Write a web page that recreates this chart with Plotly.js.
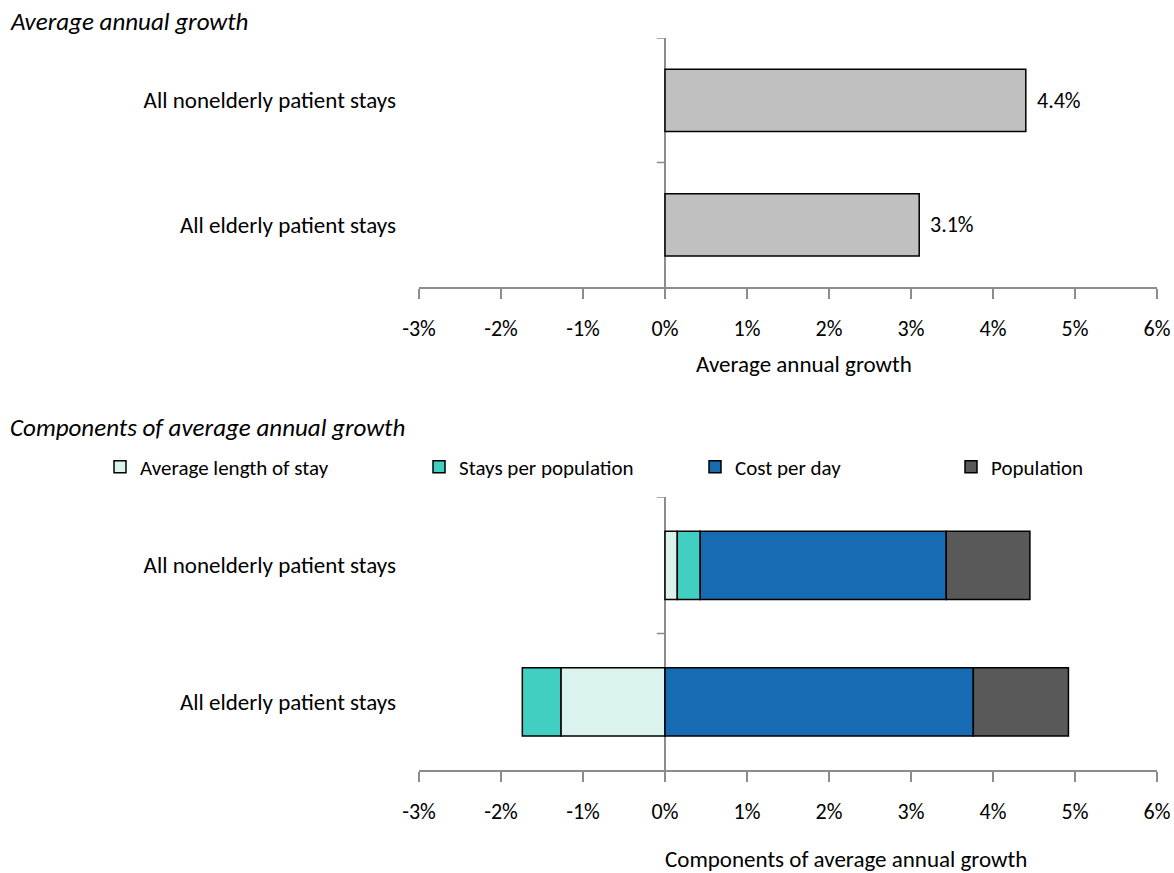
<!DOCTYPE html>
<html>
<head>
<meta charset="utf-8">
<script src="https://cdn.plot.ly/plotly-3.0.1.min.js"></script>
<style>html,body{margin:0;padding:0;background:#fff;}#chart{width:1174px;height:873px;}</style>
</head>
<body>
<div id="chart"></div>
<script>
// ---- data ----
const categories = ["All nonelderly patient stays", "All elderly patient stays"];
const totalGrowth = [4.4, 3.1];
const componentNames = ["Average length of stay", "Stays per population", "Cost per day", "Population"];
const avgLengthOfStay = [0.15, -1.27];
const staysPerPopulation = [0.28, -0.47];
const costPerDay = [3.0, 3.76];
const population = [1.02, 1.16];
const xTickVals = [-3, -2, -1, 0, 1, 2, 3, 4, 5, 6];
const xTickText = ["-3%", "-2%", "-1%", "0%", "1%", "2%", "3%", "4%", "5%", "6%"];
const topTitle = "Average annual growth";
const bottomTitle = "Components of average annual growth";

const FONT = "Carlito, Lato, 'Liberation Sans', sans-serif";
const AX = "#8c8c8c";
const colors = ["#DAF3EF", "#40CFC0", "#176BB3", "#595959"];
const compValues = [avgLengthOfStay, staysPerPopulation, costPerDay, population];
const legendIds = ["legend", "legend2", "legend3", "legend4"];
const legendTextX = [140, 459, 735, 991];

const traces = [];
traces.push({
  type: "bar", orientation: "h", x: totalGrowth, y: categories,
  xaxis: "x", yaxis: "y", showlegend: false,
  marker: {color: "#C0C0C0", line: {color: "#000", width: 1.5}},
  hoverinfo: "x+y"
});
componentNames.forEach((name, i) => {
  traces.push({
    type: "bar", orientation: "h", name: name, x: compValues[i], y: categories,
    xaxis: "x2", yaxis: "y2", legend: legendIds[i],
    marker: {color: colors[i], line: {color: "#000", width: 1.5}}
  });
});

const W = 1174, H = 873;
const xDom = [419 / W, 1157 / W];
const yTopDom = [1 - 287 / H, 1 - 38 / H];
const yBotDom = [1 - 770 / H, 1 - 497 / H];

function xAxis(anchor) {
  return {
    domain: xDom, anchor: anchor, range: [-3, 6], tickvals: xTickVals, ticktext: xTickText,
    showgrid: false, zeroline: true, zerolinecolor: AX, zerolinewidth: 1.5,
    showline: true, linecolor: AX, linewidth: 1.5, ticks: "outside", ticklen: 10,
    tickcolor: AX, tickwidth: 1.5, ticklabelstandoff: 11,
    tickfont: {family: FONT, size: 22, color: "#000"}, fixedrange: true
  };
}
function yAxis(anchor, dom) {
  return {
    domain: dom, anchor: anchor, type: "category", range: [1.5, -0.5],
    categoryorder: "array", categoryarray: categories,
    showgrid: false, zeroline: false, showline: false, ticks: "", ticklabelstandoff: 22,
    tickfont: {family: FONT, size: 23, color: "#000"}, fixedrange: true
  };
}

const shapes = [];
[["x", "y"], ["x2", "y2"]].forEach(([xr, yr]) => {
  [-0.5, 0.5].forEach(b => {
    shapes.push({type: "line", xref: xr, yref: yr, x0: -0.1, x1: 0, y0: b, y1: b,
      line: {color: AX, width: 1.5}});
  });
});

const annotations = [
  {text: "<i>" + topTitle + "</i>", xref: "paper", yref: "paper", x: 8 / W, y: 1 - 21 / H,
    xanchor: "left", yanchor: "middle", showarrow: false, font: {family: FONT, size: 25}},
  {text: "<i>" + bottomTitle + "</i>", xref: "paper", yref: "paper", x: 8 / W, y: 1 - 427 / H,
    xanchor: "left", yanchor: "middle", showarrow: false, font: {family: FONT, size: 25}},
  {text: topTitle, xref: "paper", yref: "paper", x: 804 / W, y: 1 - 364 / H,
    xanchor: "center", yanchor: "middle", showarrow: false, font: {family: FONT, size: 23}},
  {text: bottomTitle, xref: "paper", yref: "paper", x: 846 / W, y: 1 - 859 / H,
    xanchor: "center", yanchor: "middle", showarrow: false, font: {family: FONT, size: 23}}
];
totalGrowth.forEach((v, i) => {
  annotations.push({text: v.toFixed(1) + "%", xref: "x", yref: "y", x: v, y: categories[i],
    xanchor: "left", yanchor: "middle", xshift: 9, showarrow: false,
    font: {family: FONT, size: 22, color: "#000"}});
});

const layout = {
  width: W, height: H, margin: {l: 0, r: 0, t: 0, b: 0},
  paper_bgcolor: "#fff", plot_bgcolor: "#fff",
  barmode: "relative", bargap: 0.5,
  font: {family: FONT, size: 22, color: "#000"},
  xaxis: xAxis("y"), yaxis: yAxis("x", yTopDom),
  xaxis2: xAxis("y2"), yaxis2: yAxis("x2", yBotDom),
  shapes: shapes,
  showlegend: true,
  annotations: annotations
};
legendIds.forEach((id, i) => {
  layout[id] = {orientation: "h", x: (legendTextX[i] - 40) / W, y: 1 - 467 / H,
    xanchor: "left", yanchor: "middle", itemwidth: 30, bgcolor: "rgba(0,0,0,0)",
    font: {family: FONT, size: 21, color: "#000"}};
});

Plotly.newPlot("chart", traces, layout, {displayModeBar: false, staticPlot: true});
</script>
</body>
</html>
